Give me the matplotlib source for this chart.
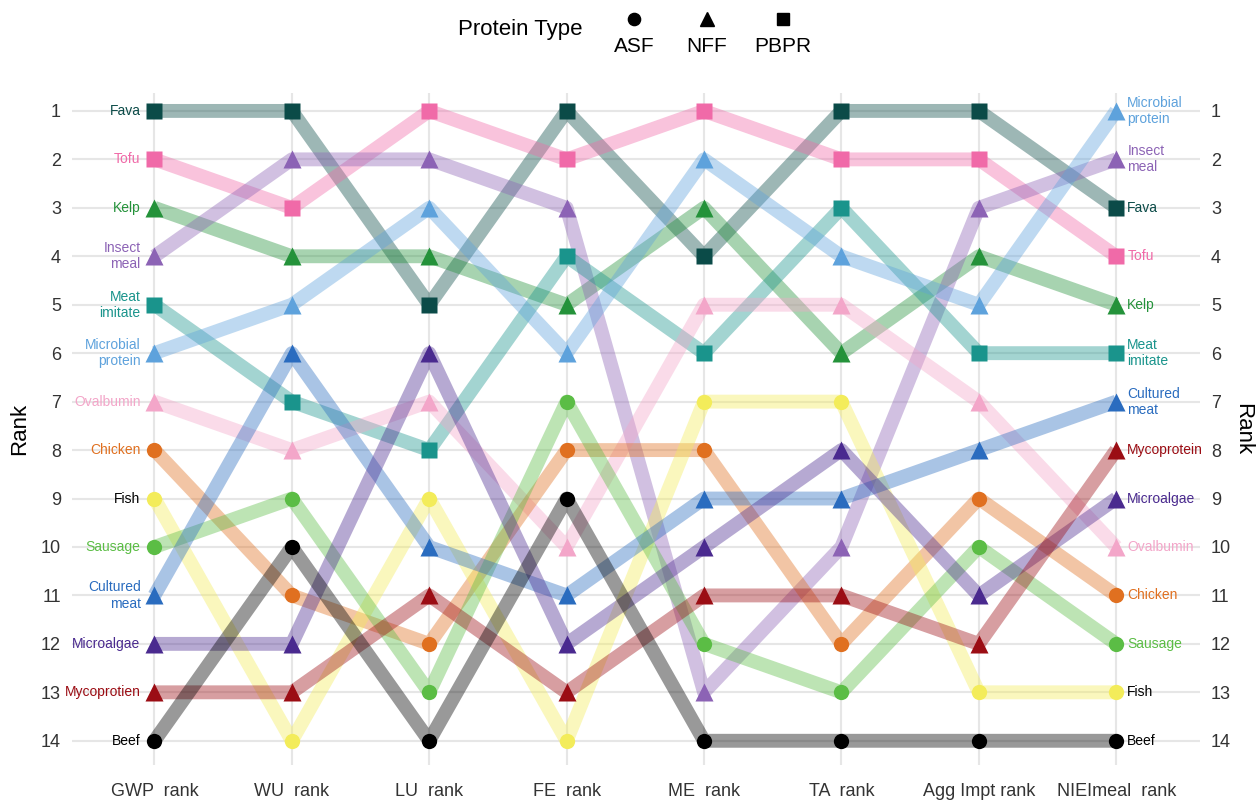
import matplotlib
matplotlib.use("Agg")
import matplotlib.pyplot as plt
from matplotlib.lines import Line2D

plt.rcParams["font.family"] = ["Liberation Sans", "DejaVu Sans"]

# ranking metrics (x axis)
metrics = ["GWP  rank", "WU  rank", "LU  rank", "FE  rank",
           "ME  rank", "TA  rank", "Agg Impt rank", "NIEImeal  rank"]

# protein sources
proteins = ["Fava", "Tofu", "Kelp", "Insect meal", "Meat imitate",
            "Microbial protein", "Ovalbumin", "Chicken", "Fish", "Sausage",
            "Cultured meat", "Microalgae", "Mycoprotien", "Beef"]
left_labels = ["Fava", "Tofu", "Kelp", "Insect\nmeal", "Meat\nimitate",
               "Microbial\nprotein", "Ovalbumin", "Chicken", "Fish", "Sausage",
               "Cultured\nmeat", "Microalgae", "Mycoprotien", "Beef"]
right_labels = ["Fava", "Tofu", "Kelp", "Insect\nmeal", "Meat\nimitate",
                "Microbial\nprotein", "Ovalbumin", "Chicken", "Fish", "Sausage",
                "Cultured\nmeat", "Microalgae", "Mycoprotein", "Beef"]
ptype = ["PBPR", "PBPR", "NFF", "NFF", "PBPR", "NFF", "NFF", "ASF", "ASF",
         "ASF", "NFF", "NFF", "NFF", "ASF"]

# rank of each protein under each metric
ranks = {
    "Fava":              [1, 1, 5, 1, 4, 1, 1, 3],
    "Tofu":              [2, 3, 1, 2, 1, 2, 2, 4],
    "Kelp":              [3, 4, 4, 5, 3, 6, 4, 5],
    "Insect meal":       [4, 2, 2, 3, 13, 10, 3, 2],
    "Meat imitate":      [5, 7, 8, 4, 6, 3, 6, 6],
    "Microbial protein": [6, 5, 3, 6, 2, 4, 5, 1],
    "Ovalbumin":         [7, 8, 7, 10, 5, 5, 7, 10],
    "Chicken":           [8, 11, 12, 8, 8, 12, 9, 11],
    "Fish":              [9, 14, 9, 14, 7, 7, 13, 13],
    "Sausage":           [10, 9, 13, 7, 12, 13, 10, 12],
    "Cultured meat":     [11, 6, 10, 11, 9, 9, 8, 7],
    "Microalgae":        [12, 12, 6, 12, 10, 8, 11, 9],
    "Mycoprotien":       [13, 13, 11, 13, 11, 11, 12, 8],
    "Beef":              [14, 10, 14, 9, 14, 14, 14, 14],
}

colors = ["#0b4b48", "#f06aa8", "#24923a", "#8c63b5", "#1a948c", "#5ea2dc",
          "#f3a6c9", "#e07020", "#f3ec5a", "#5bbd45", "#2a6cbf", "#4a2a8f",
          "#9b0d14", "#000000"]
# yellow is unreadable as text, so Fish gets a black label
label_colors = colors[:8] + ["#000000"] + colors[9:]

type_marker = {"ASF": "o", "NFF": "^", "PBPR": "s"}
type_size = {"ASF": 11, "NFF": 13, "PBPR": 11.5}

fig = plt.figure(figsize=(12.6, 8.02), dpi=100)
ax = fig.add_axes([72 / 1260, 1 - 765 / 802, 1128 / 1260, 672 / 802])

xs = list(range(1, len(metrics) + 1))

for name, col in zip(proteins, colors):
    ax.plot(xs, ranks[name], color=col, lw=10, alpha=0.4,
            solid_capstyle="butt", solid_joinstyle="round", zorder=2)

for name, col, lc, t, ll, rl in zip(proteins, colors, label_colors, ptype,
                                    left_labels, right_labels):
    ax.plot(xs, ranks[name], ls="none", marker=type_marker[t],
            ms=type_size[t], color=col, mec="none", zorder=3)
    ax.annotate(ll, (xs[0], ranks[name][0]), xytext=(-10, 0),
                textcoords="offset points", ha="right", va="center",
                color=lc, fontsize=10, zorder=4)
    ax.annotate(rl, (xs[-1], ranks[name][-1]), xytext=(8, 0),
                textcoords="offset points", ha="left", va="center",
                color=lc, fontsize=10, zorder=4)

ax.set_xlim(0.4, 8.61)
ax.set_ylim(14.5, 0.63)
ax.set_xticks(xs)
ax.set_xticklabels(metrics, fontsize=14, color="#333333")
ax.set_yticks(range(1, 15))
ax.tick_params(axis="both", length=0, labelsize=13, labelcolor="#333333")
ax.tick_params(axis="x", pad=13)
ax.tick_params(axis="y", pad=8, labelright=True)
ax.grid(True, color="#e6e6e6", lw=1.5, zorder=0)
ax.set_axisbelow(True)
for s in ax.spines.values():
    s.set_visible(False)

ax.set_ylabel("Rank", fontsize=16, labelpad=8)
ax.text(1.038, 0.5, "Rank", transform=ax.transAxes, rotation=270,
        fontsize=16, ha="center", va="center")

# legend along the top
fig.text(458 / 1260, 1 - 30 / 802, "Protein Type", fontsize=16,
         ha="left", va="center")
leg_x = [634, 707, 783]
for px, t in zip(leg_x, ["ASF", "NFF", "PBPR"]):
    fig.add_artist(Line2D([px / 1260], [1 - 19 / 802], marker=type_marker[t],
                          ms=type_size[t] * 0.8, color="black", ls="none",
                          transform=fig.transFigure))
    fig.text(px / 1260, 1 - 46 / 802, t, fontsize=15, ha="center",
             va="center")

fig.savefig("out.png", dpi=100)
